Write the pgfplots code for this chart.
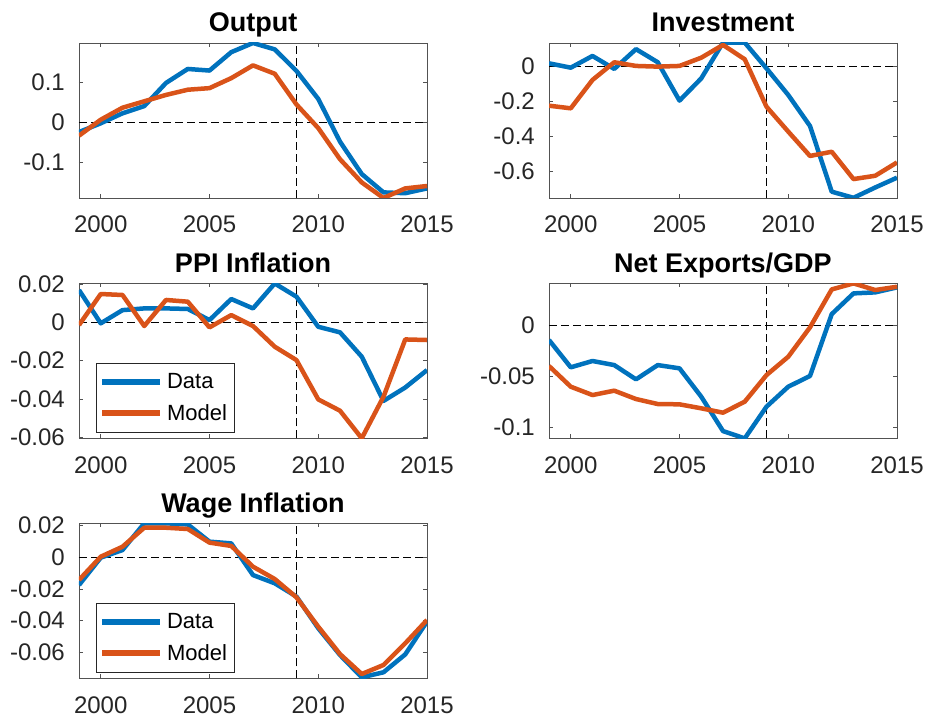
\documentclass[border=0pt]{standalone}
\usepackage{fontspec}
\setmainfont{Liberation Sans}
\usepackage{pgfplots}
\pgfplotsset{compat=1.18}
\definecolor{mblue}{rgb}{0,0.447,0.741}
\definecolor{morange}{rgb}{0.85,0.325,0.098}
\definecolor{axgray}{rgb}{0.32,0.32,0.32}
\pgfplotsset{
 panel/.style={
  scale only axis, width=348pt, height=155pt,
  anchor=south west,
  xmin=1999, xmax=2015,
  xtick={2000,2005,2010,2015},
  xticklabels={2000,2005,2010,2015},
  scaled y ticks=false, scaled x ticks=false,
  tick align=inside,
  major tick length=4pt,
  axis line style={axgray, line width=0.9pt},
  every tick/.append style={axgray, line width=0.8pt},
  tick label style={font=\fontsize{24}{28}\selectfont, text=black!85, inner sep=0pt},
  yticklabel style={xshift=-14pt},
  xticklabel style={yshift=-18pt},
  title style={font=\fontsize{27}{31}\selectfont\bfseries, at={(0.5,1)}, anchor=base, yshift=5pt, inner sep=0pt},
  legend style={at={(0.048,0.036)}, anchor=south west, draw=black!85, line width=0.8pt, fill=white,
    inner xsep=3pt, inner ysep=3.5pt, row sep=0pt, font=\fontsize{22}{26}\selectfont,
    nodes={inner xsep=4pt, inner ysep=7pt}},
  legend cell align=left,
  legend image code/.code={\draw[#1, line width=6pt] (0pt,0pt) -- (58pt,0pt);},
 },
 data/.style={mblue, line width=4.5pt, line join=round},
 model/.style={morange, line width=4.5pt, line join=round},
 ref/.style={black, line width=1.1pt, dash pattern=on 8pt off 4pt, forget plot},
}
\begin{document}
\begin{tikzpicture}
\path[use as bounding box] (0pt,0pt) rectangle (927pt,717pt);

% Output
\begin{axis}[panel, at={(79pt,519pt)}, title={Output},
  ymin=-0.19, ymax=0.198, ytick={-0.1,0,0.1}, yticklabels={-0.1,0,0.1}]
\addplot[ref] coordinates {(1999,0) (2015,0)};
\addplot[ref] coordinates {(2009,-0.19) (2009,0.198)};
\addplot[data] coordinates {(1999,-0.025) (2000,-0.003) (2001,0.022) (2002,0.04) (2003,0.098) (2004,0.133) (2005,0.129) (2006,0.175) (2007,0.198) (2008,0.182) (2009,0.128) (2010,0.058) (2011,-0.049) (2012,-0.13) (2013,-0.176) (2014,-0.178) (2015,-0.166)};
\addplot[model] coordinates {(1999,-0.034) (2000,0.006) (2001,0.036) (2002,0.052) (2003,0.068) (2004,0.081) (2005,0.085) (2006,0.11) (2007,0.142) (2008,0.121) (2009,0.044) (2010,-0.015) (2011,-0.093) (2012,-0.151) (2013,-0.19) (2014,-0.166) (2015,-0.16)};
\end{axis}

% Investment
\begin{axis}[panel, at={(549pt,519pt)}, title={Investment},
  ymin=-0.75, ymax=0.135, ytick={-0.6,-0.4,-0.2,0}, yticklabels={-0.6,-0.4,-0.2,0}]
\addplot[ref] coordinates {(1999,0) (2015,0)};
\addplot[ref] coordinates {(2009,-0.75) (2009,0.135)};
\addplot[data] coordinates {(1999,0.019) (2000,-0.006) (2001,0.061) (2002,-0.013) (2003,0.10) (2004,0.025) (2005,-0.194) (2006,-0.067) (2007,0.137) (2008,0.137) (2009,-0.01) (2010,-0.162) (2011,-0.339) (2012,-0.714) (2013,-0.749) (2014,-0.69) (2015,-0.634)};
\addplot[model] coordinates {(1999,-0.223) (2000,-0.238) (2001,-0.076) (2002,0.025) (2003,0.004) (2004,0.0) (2005,0.004) (2006,0.051) (2007,0.124) (2008,0.042) (2009,-0.229) (2010,-0.371) (2011,-0.51) (2012,-0.486) (2013,-0.642) (2014,-0.623) (2015,-0.547)};
\end{axis}

% PPI Inflation
\begin{axis}[panel, at={(79pt,278.7pt)}, title={PPI Inflation},
  ymin=-0.0605, ymax=0.0204, ytick={-0.06,-0.04,-0.02,0,0.02}, yticklabels={-0.06,-0.04,-0.02,0,0.02}]
\addplot[ref] coordinates {(1999,0) (2015,0)};
\addplot[ref] coordinates {(2009,-0.0605) (2009,0.0204)};
\addplot[data] coordinates {(1999,0.0169) (2000,-0.0005) (2001,0.0064) (2002,0.0073) (2003,0.0073) (2004,0.007) (2005,0.0012) (2006,0.0122) (2007,0.0073) (2008,0.0203) (2009,0.0134) (2010,-0.0023) (2011,-0.0052) (2012,-0.0179) (2013,-0.041) (2014,-0.034) (2015,-0.0249)};
\addlegendentry{Data}
\addplot[model] coordinates {(1999,-0.0014) (2000,0.0148) (2001,0.0143) (2002,-0.0019) (2003,0.0117) (2004,0.0108) (2005,-0.0026) (2006,0.0038) (2007,-0.0019) (2008,-0.0127) (2009,-0.0197) (2010,-0.0402) (2011,-0.0461) (2012,-0.0605) (2013,-0.0388) (2014,-0.0089) (2015,-0.0092)};
\addlegendentry{Model}
\end{axis}

% Net Exports/GDP
\begin{axis}[panel, at={(549pt,278.7pt)}, title={Net Exports/GDP},
  ymin=-0.1104, ymax=0.0416, ytick={-0.1,-0.05,0}, yticklabels={-0.1,-0.05,0}]
\addplot[ref] coordinates {(1999,0) (2015,0)};
\addplot[ref] coordinates {(2009,-0.1104) (2009,0.0416)};
\addplot[data] coordinates {(1999,-0.014) (2000,-0.0408) (2001,-0.0346) (2002,-0.0386) (2003,-0.0526) (2004,-0.0386) (2005,-0.0418) (2006,-0.0696) (2007,-0.1033) (2008,-0.1105) (2009,-0.0794) (2010,-0.0598) (2011,-0.0493) (2012,0.0114) (2013,0.0317) (2014,0.0327) (2015,0.0376)};
\addplot[model] coordinates {(1999,-0.0395) (2000,-0.0598) (2001,-0.068) (2002,-0.0637) (2003,-0.0719) (2004,-0.0768) (2005,-0.0771) (2006,-0.081) (2007,-0.0853) (2008,-0.0745) (2009,-0.0484) (2010,-0.0304) (2011,-0.0016) (2012,0.0356) (2013,0.0415) (2014,0.035) (2015,0.0382)};
\end{axis}

% Wage Inflation
\begin{axis}[panel, at={(79pt,38.7pt)}, title={Wage Inflation},
  ymin=-0.0764, ymax=0.0215, ytick={-0.06,-0.04,-0.02,0,0.02}, yticklabels={-0.06,-0.04,-0.02,0,0.02}]
\addplot[ref] coordinates {(1999,0) (2015,0)};
\addplot[ref] coordinates {(2009,-0.0764) (2009,0.0215)};
\addplot[data] coordinates {(1999,-0.0175) (2000,-0.0002) (2001,0.0046) (2002,0.0215) (2003,0.0215) (2004,0.0208) (2005,0.0099) (2006,0.0088) (2007,-0.0112) (2008,-0.0164) (2009,-0.0248) (2010,-0.0448) (2011,-0.0617) (2012,-0.0758) (2013,-0.0726) (2014,-0.0613) (2015,-0.0406)};
\addlegendentry{Data}
\addplot[model] coordinates {(1999,-0.0143) (2000,0.0004) (2001,0.0067) (2002,0.0187) (2003,0.0187) (2004,0.0179) (2005,0.0093) (2006,0.0072) (2007,-0.0059) (2008,-0.0137) (2009,-0.0253) (2010,-0.0438) (2011,-0.0611) (2012,-0.0737) (2013,-0.068) (2014,-0.0543) (2015,-0.0396)};
\addlegendentry{Model}
\end{axis}
\end{tikzpicture}
\end{document}
